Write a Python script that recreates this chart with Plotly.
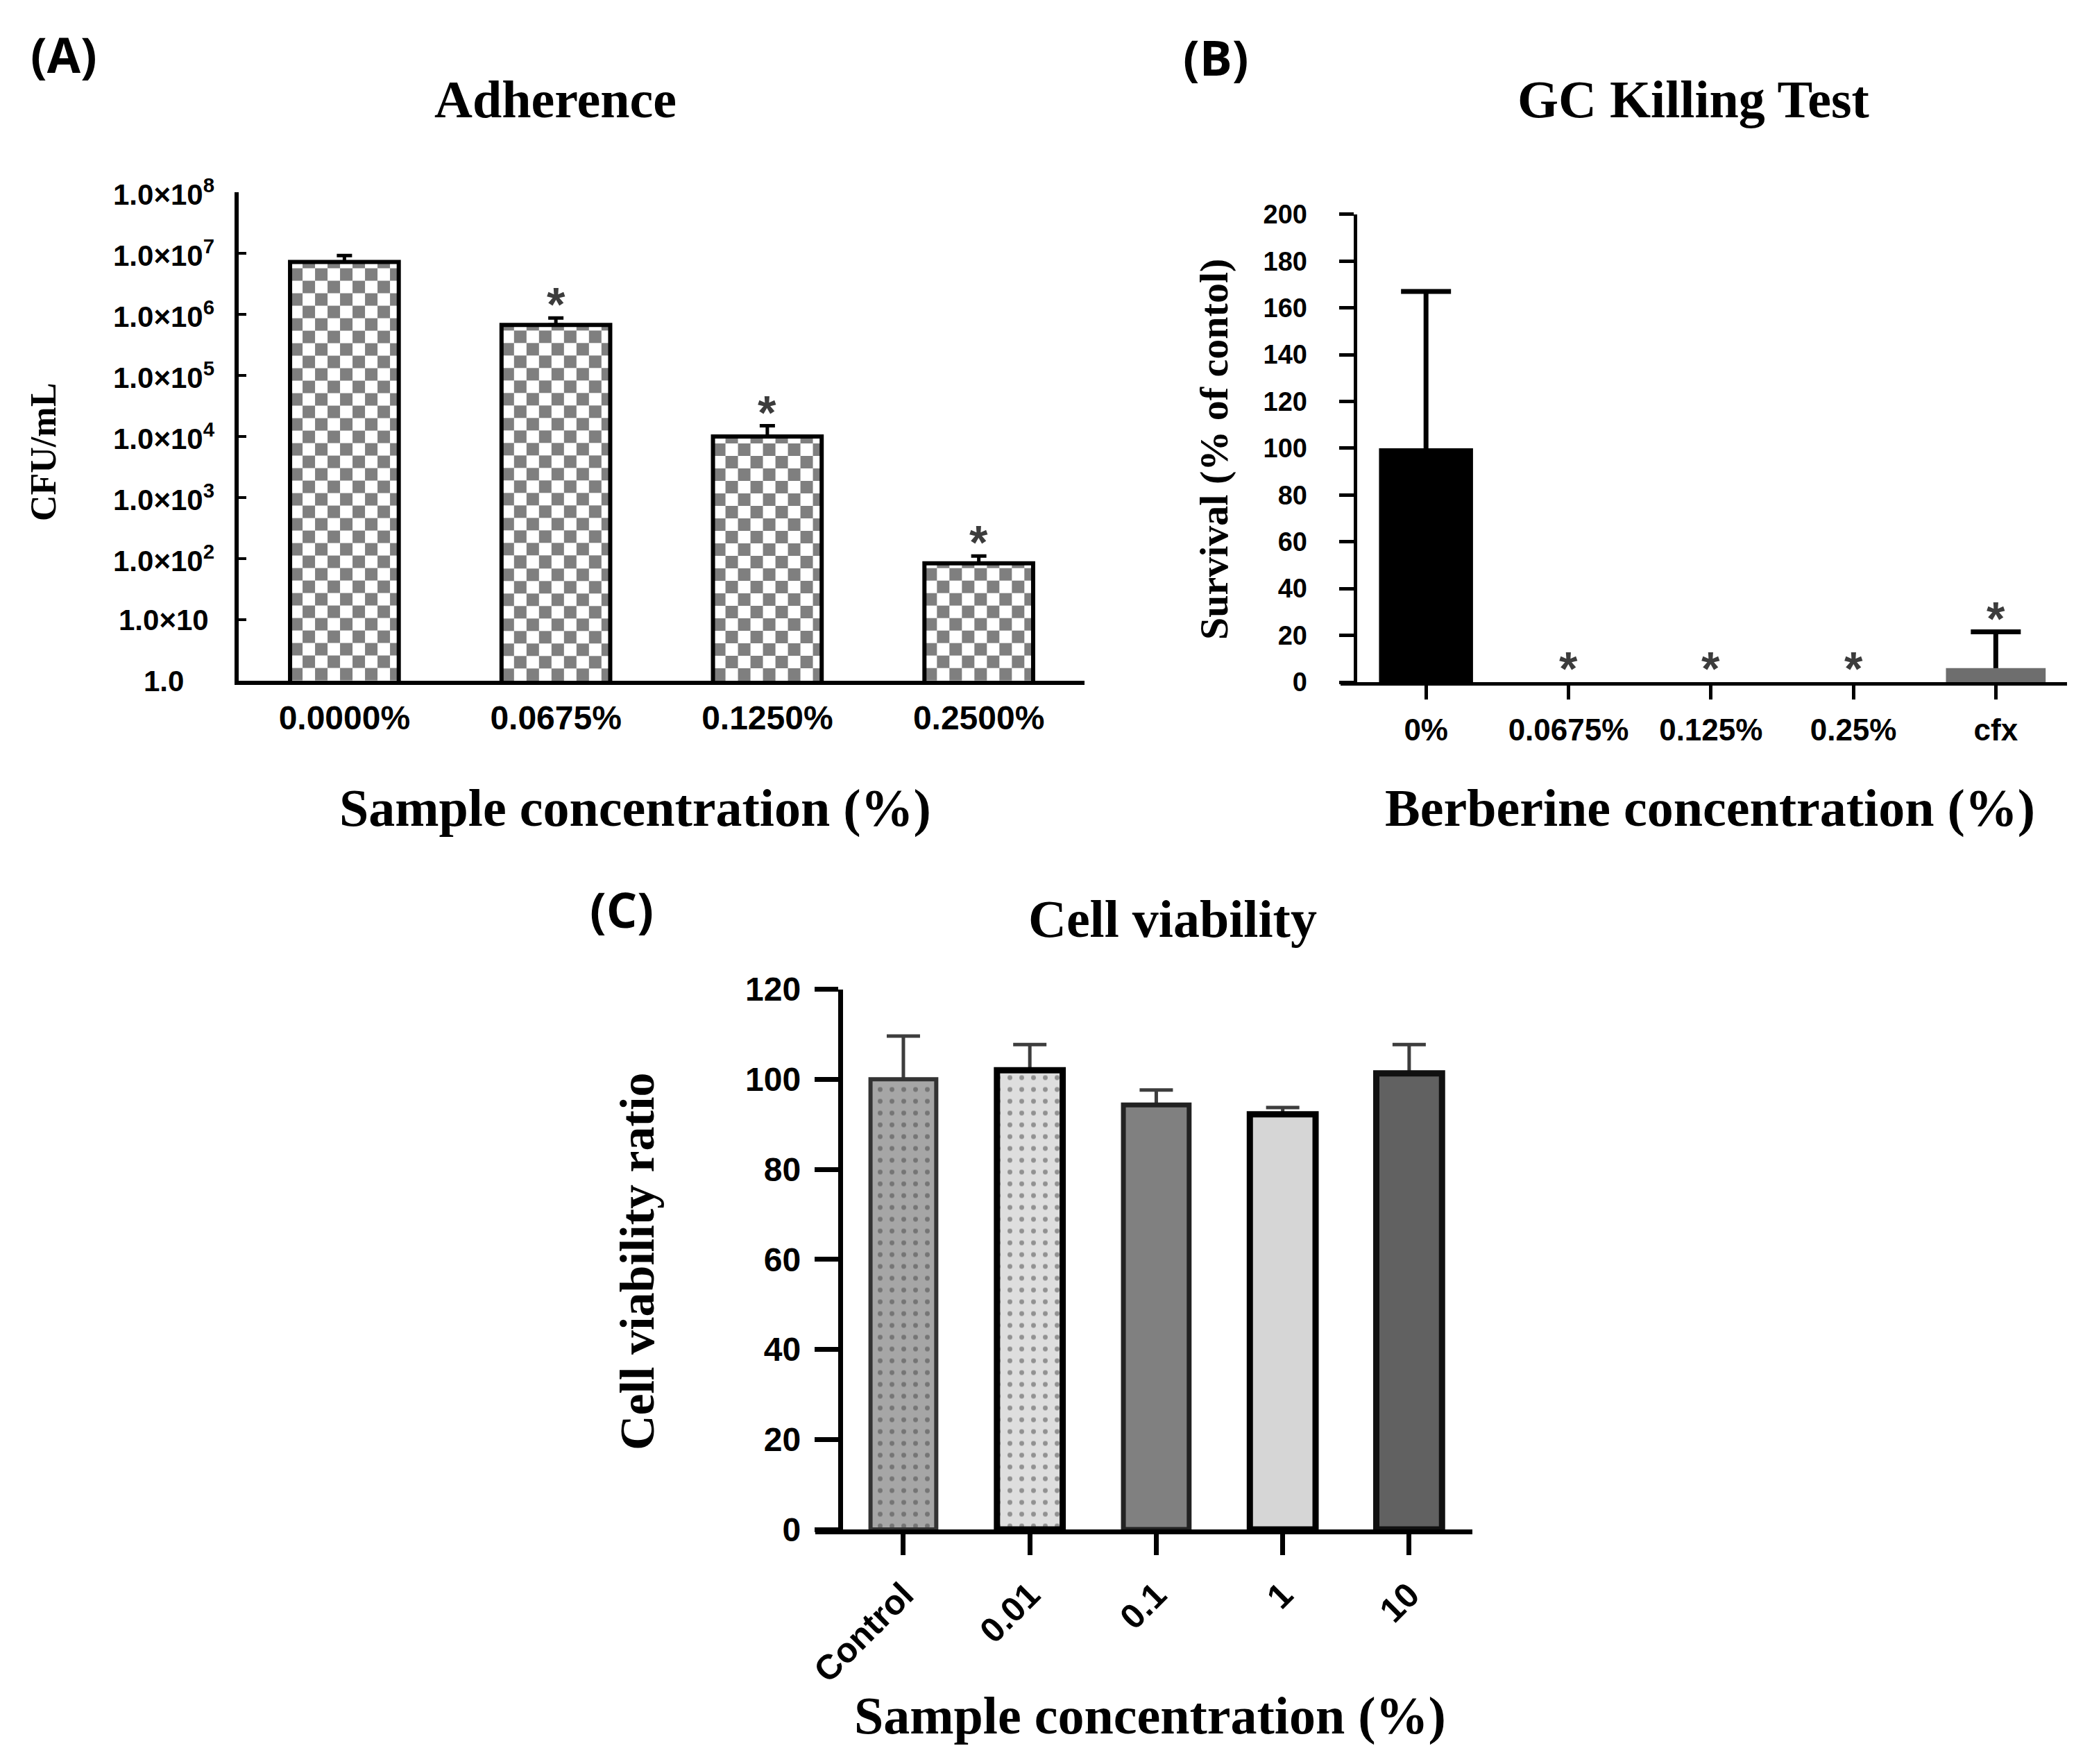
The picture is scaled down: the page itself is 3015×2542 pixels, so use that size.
import numpy as np
import plotly.graph_objects as go

W, H = 3015, 2542
SANS = "Liberation Sans"
SERIF = "Liberation Serif"
TAG = "Open Sans"

# ---- (A) Adherence ----
adh_labels = ["0.0000%", "0.0675%", "0.1250%", "0.2500%"]
adh_cfu = [7.2e6, 6.7e5, 1.0e4, 84]
adh_err = [2.0e6, 2.0e5, 0.5e4, 26]
adh_sig = [False, True, True, True]
adh_ticks = [1, 1e1, 1e2, 1e3, 1e4, 1e5, 1e6, 1e7, 1e8]
adh_ticktext = ["1.0", "1.0×10"] + ["1.0×10<sup>%d</sup>" % k for k in range(2, 9)]

# ---- (B) GC killing test ----
gc_labels = ["0%", "0.0675%", "0.125%", "0.25%", "cfx"]
gc_surv = [100, 0, 0, 0, 6]
gc_err = [67, 0, 0, 0, 15.5]
gc_sig = [False, True, True, True, True]
gc_colors = ["#000000", "#000000", "#000000", "#000000", "#6e6e6e"]

# ---- (C) Cell viability ----
cv_labels = ["Control", "0.01", "0.1", "1", "10"]
cv_ratio = [100, 102, 94.3, 92.2, 101.3]
cv_err = [9.6, 5.7, 3.3, 1.5, 6.4]
cv_fill = ["#a6a6a6", "#dedede", "#808080", "#d6d6d6", "#616161"]
cv_dots = ["#4d4d4d", "#9a9a9a", "#808080", "#d6d6d6", "#616161"]
cv_shape = [".", ".", "", "", ""]
cv_edge = ["#333333", "#000000", "#222222", "#000000", "#111111"]
cv_edgew = [6, 9, 7, 9, 9]


def px(x):
    return x / W


def py(y):
    return 1 - y / H


fig = go.Figure()

# checkerboard fill for panel A, drawn under the bar outlines
bw_a = 0.514
cell_x, cell_y = 18 / 305.3, 18 / 87.9
for i, v in enumerate(adh_cfu):
    top = np.log10(v)
    xe = np.append(np.arange(i - bw_a / 2, i + bw_a / 2 - 1e-6, cell_x), i + bw_a / 2)
    ye = np.append(np.arange(0, top - 1e-6, cell_y), top)
    z = np.add.outer(np.arange(len(ye) - 1), np.arange(len(xe) - 1)) % 2
    fig.add_trace(go.Heatmap(x=xe, y=ye, z=z, xaxis="x", yaxis="y",
                             colorscale=[[0, "#7f7f7f"], [1, "#ffffff"]],
                             zmin=0, zmax=1, showscale=False, hoverinfo="skip"))

fig.add_trace(go.Bar(
    x=list(range(len(adh_labels))), y=adh_cfu, width=bw_a,
    marker=dict(color="rgba(0,0,0,0)", line=dict(color="black", width=6)),
    error_y=dict(type="data", array=adh_err, arrayminus=[0] * len(adh_err),
                 symmetric=False, color="black", thickness=5, width=11),
    xaxis="x", yaxis="y2", showlegend=False))

# panel B: error bars first (hidden bars), real bars drawn over their stems
gc_w = [0.66, 0.66, 0.66, 0.66, 0.70]
fig.add_trace(go.Bar(
    x=list(range(len(gc_labels))), y=[v if e > 0 else None for v, e in zip(gc_surv, gc_err)],
    width=gc_w, marker=dict(color="rgba(0,0,0,0)", line=dict(width=0)),
    error_y=dict(type="data", array=gc_err, arrayminus=gc_surv, symmetric=False,
                 color="black", thickness=7, width=36),
    xaxis="x2", yaxis="y3", showlegend=False, hoverinfo="skip"))
fig.add_trace(go.Bar(
    x=list(range(len(gc_labels))), y=gc_surv, width=gc_w,
    marker=dict(color=gc_colors, line=dict(width=0)),
    xaxis="x2", yaxis="y3", showlegend=False))

# panel C
fig.add_trace(go.Bar(
    x=list(range(len(cv_labels))), y=cv_ratio, width=0.52,
    marker=dict(color="rgba(0,0,0,0)", line=dict(width=0)),
    error_y=dict(type="data", array=cv_err, arrayminus=cv_ratio, symmetric=False,
                 color="#3d3d3d", thickness=5, width=24),
    xaxis="x3", yaxis="y4", showlegend=False, hoverinfo="skip"))
fig.add_trace(go.Bar(
    x=list(range(len(cv_labels))), y=cv_ratio, width=0.52,
    marker=dict(color=cv_fill, line=dict(color=cv_edge, width=cv_edgew),
                pattern=dict(shape=cv_shape, fgcolor=cv_dots, size=17,
                             solidity=0.13, fillmode="overlay")),
    xaxis="x3", yaxis="y4", showlegend=False))

ann = []


def note(text, x, y, size, family=SERIF, angle=0, color="black", **kw):
    d = dict(text=text, x=x, y=y, xref="paper", yref="paper", showarrow=False,
             textangle=angle, xanchor="center", yanchor="middle",
             font=dict(family=family, size=size, color=color, weight="bold"))
    d.update(kw)
    ann.append(d)


# panel tags, titles, axis titles
note("(A)", px(92), py(78), 70, TAG)
note("(B)", px(1752), py(82), 70, TAG)
note("(C)", px(896), py(1310), 70, TAG)
note("Adherence", px(800), py(143), 76)
note("GC Killing Test", px(2440), py(143), 76)
note("Cell viability", px(1690), py(1324), 76)
note("Sample concentration (%)", px(915), py(1164), 76)
note("Berberine concentration (%)", px(2464), py(1164), 76)
note("Sample concentration (%)", px(1657), py(2472), 76)
note("CFU/mL", px(62), py(652), 52, angle=-90)
note("Survival (% of contol)", px(1749), py(647), 58, angle=-90)
note("Cell viability ratio", px(918), py(1818), 70, angle=-90)

# centred log tick labels for panel A
for t, s in zip(adh_ticks, adh_ticktext):
    note(s, px(236), np.log10(t), 42, SANS, yref="y")

# significance asterisks
for i, (v, e, s) in enumerate(zip(adh_cfu, adh_err, adh_sig)):
    if s:
        note("*", i, np.log10(v + e), 68, SANS, color="#3c3c3c", xref="x", yref="y", yshift=20)
for i, (v, e, s) in enumerate(zip(gc_surv, gc_err, gc_sig)):
    if s:
        note("*", i, v + e, 68, SANS, color="#3c3c3c", xref="x2", yref="y3", yshift=20)

tickfont = lambda n: dict(family=SANS, size=n, color="black", weight="bold")
common = dict(showgrid=False, zeroline=False, showline=True, linecolor="black",
              tickcolor="black", automargin=False)

fig.update_layout(
    width=W, height=H, autosize=False,
    margin=dict(l=0, r=0, t=0, b=0, pad=0),
    paper_bgcolor="white", plot_bgcolor="white",
    showlegend=False, barmode="overlay",
    annotations=ann,
    # panel A
    xaxis=dict(domain=[px(344), px(1563)], range=[-0.5, 3.5], anchor="y",
               tickvals=list(range(len(adh_labels))), ticktext=adh_labels,
               ticks="", linewidth=6, tickfont=tickfont(48), ticklabelstandoff=6,
               **common),
    yaxis=dict(domain=[py(981), py(277)], range=[0, 8], anchor="x", visible=False,
               automargin=False),
    yaxis2=dict(type="log", range=[0, 8], overlaying="y", anchor="x", side="left",
                tickvals=adh_ticks, showticklabels=False, ticks="inside",
                ticklen=11, tickwidth=4, linewidth=6, **common),
    # panel B
    xaxis2=dict(domain=[px(1931.5), px(2979)], range=[-0.5 - 21 / 205, 4.5],
                anchor="y3", tickvals=list(range(len(gc_labels))), ticktext=gc_labels,
                ticks="outside", ticklen=20, tickwidth=5, linewidth=5,
                tickfont=tickfont(44), ticklabelstandoff=6, **common),
    yaxis3=dict(domain=[py(983), py(308.8)], range=[0, 200], dtick=20,
                anchor="free", position=px(1952.6), ticks="outside", ticklen=21,
                tickwidth=5, linewidth=5, tickfont=tickfont(38),
                ticklabelstandoff=38, **common),
    # panel C
    xaxis3=dict(domain=[px(1175), px(2122)], range=[-0.5 - 35.8 / 182, 4.5],
                anchor="y4", tickvals=list(range(len(cv_labels))), ticktext=cv_labels,
                tickangle=-45, ticks="outside", ticklen=30, tickwidth=7, linewidth=7,
                tickfont=tickfont(50), ticklabelstandoff=8, **common),
    yaxis4=dict(domain=[py(2204), py(1425.5)], range=[0, 120], dtick=20,
                anchor="free", position=px(1210.8), ticks="outside", ticklen=34,
                tickwidth=7, linewidth=7, tickfont=tickfont(48),
                ticklabelstandoff=10, **common),
)

fig.write_html("out.html", config={"displayModeBar": False},
               post_script="document.body.style.margin='0';")
